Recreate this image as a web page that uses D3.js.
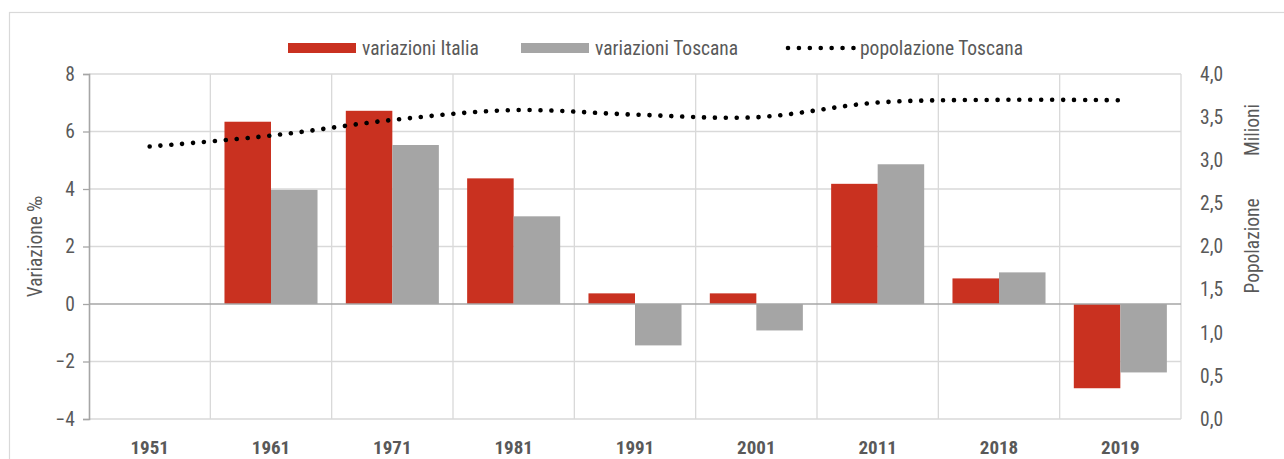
<!DOCTYPE html>
<html>
<head>
<meta charset="utf-8">
<script src="https://cdn.jsdelivr.net/npm/d3@7"></script>
<style>
  html, body { margin: 0; padding: 0; background: #fff; }
  svg { display: block; }
  text { font-family: "Liberation Sans Narrow", "Roboto Condensed", "Arial Narrow", Roboto, sans-serif; }
</style>
</head>
<body>
<svg id="chart" width="1284" height="459"></svg>
<script>
// Census years shown along the category axis
const years = ["1951", "1961", "1971", "1981", "1991", "2001", "2011", "2018", "2019"];
// Annual population change (per thousand) — Italy
const variazioniItalia = [null, 6.34, 6.72, 4.37, 0.37, 0.37, 4.18, 0.89, -2.93];
// Annual population change (per thousand) — Tuscany
const variazioniToscana = [null, 3.97, 5.53, 3.05, -1.44, -0.92, 4.86, 1.10, -2.38];
// Resident population of Tuscany (millions)
const popolazioneToscana = [3.159, 3.286, 3.467, 3.581, 3.529, 3.499, 3.669, 3.700, 3.696];
// Tick values for the two vertical axes
const leftTicks = [-4, -2, 0, 2, 4, 6, 8];
const rightTicks = [0, 0.5, 1, 1.5, 2, 2.5, 3, 3.5, 4];

const seriesNames = ["variazioni Italia", "variazioni Toscana"];
const colors = { "variazioni Italia": "#c93120", "variazioni Toscana": "#a5a5a5" };
const FS = "19.5px";

const svg = d3.select("#chart");
const plot = { left: 89, right: 1181, top: 74, bottom: 419 };

// Outer chart frame
svg.append("rect")
  .attr("x", 9.5).attr("y", 12.5)
  .attr("width", 1300).attr("height", 500)
  .attr("fill", "none").attr("stroke", "#d9d9d9").attr("stroke-width", 1.2);

const x = d3.scaleBand().domain(years).range([plot.left, plot.right]).padding(0);
const xInner = d3.scaleBand().domain(seriesNames).range([0, x.bandwidth()]).paddingInner(0).paddingOuter(0.304);
const y = d3.scaleLinear().domain([-4, 8]).range([plot.bottom, plot.top]);
const y2 = d3.scaleLinear().domain([0, 4]).range([plot.bottom, plot.top]);

const grid = svg.append("g");
// Horizontal gridlines
grid.selectAll("line.h").data(leftTicks.filter(t => t !== 0)).join("line")
  .attr("x1", plot.left).attr("x2", plot.right)
  .attr("y1", d => y(d)).attr("y2", d => y(d))
  .attr("stroke", "#d9d9d9").attr("stroke-width", 1.3);
// Vertical gridlines between categories
grid.selectAll("line.v").data(years.slice(1).concat(["end"])).join("line")
  .attr("x1", d => d === "end" ? plot.right : x(d))
  .attr("x2", d => d === "end" ? plot.right : x(d))
  .attr("y1", plot.top).attr("y2", plot.bottom)
  .attr("stroke", "#d9d9d9").attr("stroke-width", 1.3);

// Bars
const rows = years.map((yr, i) => ({ year: yr, values: [
  { key: "variazioni Italia", v: variazioniItalia[i] },
  { key: "variazioni Toscana", v: variazioniToscana[i] }
]}));
svg.append("g").selectAll("g").data(rows).join("g")
  .attr("transform", d => `translate(${x(d.year)},0)`)
  .selectAll("rect").data(d => d.values.filter(v => v.v !== null)).join("rect")
  .attr("x", d => xInner(d.key))
  .attr("width", xInner.bandwidth())
  .attr("y", d => y(Math.max(0, d.v)))
  .attr("height", d => Math.abs(y(d.v) - y(0)))
  .attr("fill", d => colors[d.key]);

// Zero baseline
svg.append("line")
  .attr("x1", plot.left).attr("x2", plot.right)
  .attr("y1", y(0)).attr("y2", y(0))
  .attr("stroke", "#a6a6a6").attr("stroke-width", 1.6);

// Left axis
const leftAxis = d3.axisLeft(y).tickValues(leftTicks).tickSize(6).tickPadding(8).tickFormat(d3.format("d"));
const gl = svg.append("g").attr("transform", `translate(${plot.left},0)`).call(leftAxis);
gl.select(".domain").attr("stroke", "#a6a6a6").attr("stroke-width", 1.6);
gl.selectAll(".tick line").attr("stroke", "#a6a6a6").attr("stroke-width", 1.3);
gl.selectAll(".tick text").attr("fill", "#595959").style("font-size", FS);

// Right axis
const itFmt = d => d.toFixed(1).replace(".", ",");
const rightAxis = d3.axisRight(y2).tickValues(rightTicks).tickSize(0).tickPadding(19).tickFormat(itFmt);
const gr = svg.append("g").attr("transform", `translate(${plot.right},0)`).call(rightAxis);
gr.select(".domain").remove();
gr.selectAll(".tick text").attr("fill", "#595959").style("font-size", FS);

// Category axis labels
svg.append("g").selectAll("text").data(years).join("text")
  .attr("x", d => x(d) + x.bandwidth() / 2)
  .attr("y", 454)
  .attr("text-anchor", "middle")
  .attr("fill", "#595959")
  .style("font-size", "19px").style("font-weight", "bold")
  .text(d => d);

// Population line (smoothed, dotted)
const line = d3.line()
  .x((d, i) => x(years[i]) + x.bandwidth() / 2)
  .y(d => y2(d))
  .curve(d3.curveCatmullRom.alpha(0.5));
svg.append("path")
  .datum(popolazioneToscana)
  .attr("d", line)
  .attr("fill", "none")
  .attr("stroke", "#000")
  .attr("stroke-width", 4.6)
  .attr("stroke-linecap", "round")
  .attr("stroke-dasharray", "0.01 10.9");

// Axis titles
svg.append("text")
  .attr("transform", `translate(42,${(plot.top + plot.bottom) / 2}) rotate(-90)`)
  .attr("text-anchor", "middle").attr("fill", "#595959")
  .style("font-size", FS).text("Variazione ‰");
svg.append("text")
  .attr("transform", "translate(1259,130) rotate(-90)")
  .attr("text-anchor", "middle").attr("fill", "#595959")
  .style("font-size", FS).text("Milioni");
svg.append("text")
  .attr("transform", "translate(1259,246) rotate(-90)")
  .attr("text-anchor", "middle").attr("fill", "#595959")
  .style("font-size", FS).text("Popolazione");

// Legend
const legend = svg.append("g");
const legendItems = [
  { label: "variazioni Italia", type: "bar", color: colors["variazioni Italia"], x: 288 },
  { label: "variazioni Toscana", type: "bar", color: colors["variazioni Toscana"], x: 521 },
  { label: "popolazione Toscana", type: "line", color: "#000", x: 786 }
];
legendItems.forEach(it => {
  if (it.type === "bar") {
    legend.append("rect").attr("x", it.x).attr("y", 43).attr("width", 68).attr("height", 10).attr("fill", it.color);
  } else {
    legend.append("line").attr("x1", it.x + 2).attr("x2", it.x + 68).attr("y1", 48).attr("y2", 48)
      .attr("stroke", it.color).attr("stroke-width", 4.6).attr("stroke-linecap", "round")
      .attr("stroke-dasharray", "0.01 10.9");
  }
  legend.append("text").attr("x", it.x + 74).attr("y", 55)
    .attr("fill", "#595959").style("font-size", FS).text(it.label);
});
</script>
</body>
</html>
